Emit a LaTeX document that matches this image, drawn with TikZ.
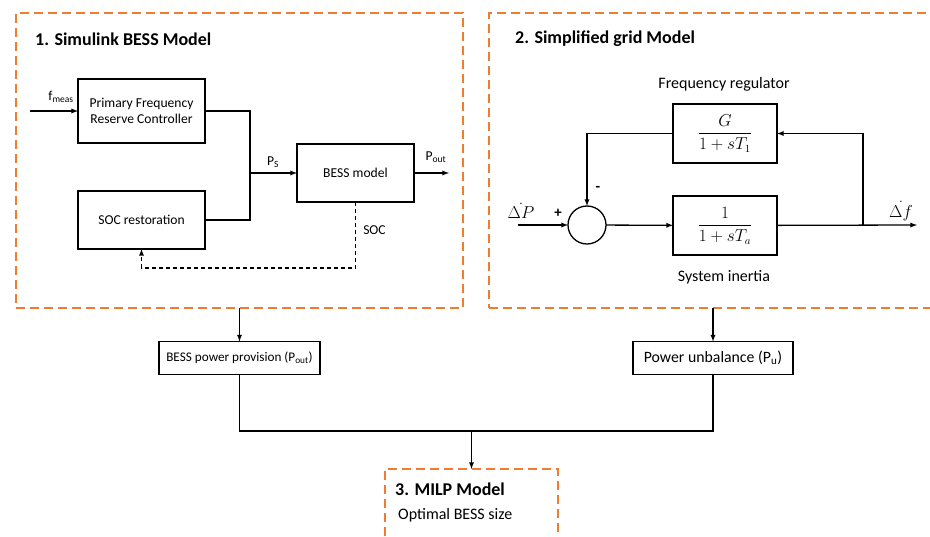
\documentclass[tikz,border=0pt]{standalone}
\usepackage{amsmath}
\usepackage{fontspec}
\setmainfont{Carlito}
\usetikzlibrary{arrows,positioning}
\definecolor{frameorange}{RGB}{237,125,49}
\tikzset{
  wire/.style={line width=1.3pt},
  block/.style={draw, line width=1.3pt, inner sep=0pt, outer sep=0pt, align=center,
    font=\fontsize{13.6}{16.5}\selectfont},
  frame/.style={draw=frameorange, line width=2.8pt, dash pattern=on 9pt off 5pt,
    inner sep=0pt, outer sep=0pt},
  title/.style={font=\fontsize{18}{21}\selectfont\bfseries, inner sep=0pt},
  lbl/.style={font=\fontsize{13.6}{16.5}\selectfont, inner sep=0pt},
  biglbl/.style={font=\fontsize{16}{19}\selectfont, inner sep=0pt},
  sumnode/.style={draw, circle, line width=1.3pt, minimum size=38pt, inner sep=0pt, outer sep=0pt},
  tf/.style={block, minimum width=104pt, minimum height=59pt, font=\fontsize{16}{19}\selectfont}
}
\begin{document}
\begin{tikzpicture}[x=1pt,y=-1pt,>=latex]
            \clip (0,0) rectangle (930,537);
            %frames
            \node[frame, minimum width=447pt, minimum height=295pt] (bessframe) at (239.5,160.5) {};
            \node[frame, minimum width=470pt, minimum height=295pt, anchor=north west] (gridframe) at (489,13) {};
            \node[frame, minimum width=173pt, minimum height=100pt, anchor=north west] (milpframe) at (385,469) {};
            \node[title, anchor=west] (bessttl) at (35,39) {1. Simulink BESS Model};
            \node[title, anchor=west] (gridttl) at (515,39) {2. Simplified grid Model};
            \node[title, anchor=west] (milpttl) at (395,489) {3. MILP Model};
            \node[biglbl, anchor=west] (milptxt) at (398,515) {Optimal BESS size};
            %bess model
            \node[block, minimum width=127pt, minimum height=64pt] (pfrc) at (141.5,111) {Primary Frequency\\Reserve Controller};
            \node[block, minimum width=127pt, minimum height=58pt] (socrest) at (141.5,220) {SOC restoration};
            \node[block, minimum width=117pt, minimum height=58pt] (bess) at (355.5,173) {BESS model};
            \coordinate (fin) at (30,111);
            \coordinate (ps) at (250,173);
            \coordinate (pout) at (449,173);
            \coordinate (socturn) at (355.5,268);
            \draw[wire,->] (fin) -- (pfrc);
            \draw[wire] (pfrc.east) -| (ps) |- (socrest.east);
            \draw[wire,->] (ps) -- (bess);
            \draw[wire,->] (bess) -- (pout);
            \draw[wire,dash pattern=on 4pt off 3pt,->] (bess.south) -- (socturn) -| (socrest.south);
            \node[lbl] (fmeas) at (61,97) {f\textsubscript{meas}};
            \node[lbl] (pslbl) at (273,162) {P\textsubscript{S}};
            \node[lbl] (poutlbl) at (436,157) {P\textsubscript{out}};
            \node[lbl] (soclbl) at (374.5,230) {SOC};
            %grid model
            \node[sumnode] (sum) at (587,225) {};
            \node[tf] (freqreg) at (725,133.5) {$\dfrac{G}{1+sT_1}$};
            \node[tf] (inertia) at (725,225.5) {$\dfrac{1}{1+sT_a}$};
            \coordinate (dpin) at (518,225);
            \coordinate (dfout) at (917,225);
            \coordinate (branch) at (863,225);
            \draw[wire,->] (dpin) -- (sum);
            \draw[wire,->] (sum) -- (inertia);
            \draw[wire,->] (inertia) -- (dfout);
            \draw[wire,->] (branch) |- (freqreg.east);
            \draw[wire,->] (freqreg.west) -| (sum.north);
            \node[biglbl] (freqlbl) at (724,84) {Frequency regulator};
            \node[biglbl] (inertlbl) at (724,277) {System inertia};
            \node[biglbl] (dplbl) at (521,211) {$\dot{\Delta P}$};
            \node[biglbl] (dflbl) at (901,211) {$\dot{\Delta f}$};
            \node[biglbl, font=\fontsize{15}{18}\selectfont\bfseries] (plus) at (558,213) {+};
            \node[biglbl, font=\fontsize{15}{18}\selectfont\bfseries] (minus) at (598,189) {-};
            %outputs
            \node[block, minimum width=161pt, minimum height=33pt, font=\fontsize{13.2}{16}\selectfont] (provision) at (239.5,358) {BESS power provision (P\textsubscript{out})};
            \node[block, minimum width=160pt, minimum height=33pt, font=\fontsize{15.8}{19}\selectfont] (unbalance) at (713,358) {Power unbalance (P\textsubscript{u})};
            \coordinate (merge) at (471.5,431);
            \draw[wire,->] (bessframe.south) -- (provision);
            \draw[wire,->] (gridframe.south -| unbalance.north) -- (unbalance);
            \draw[wire] (provision.south) |- (merge) -| (unbalance.south);
            \draw[wire,->] (merge) -- (milpframe.north);
        \end{tikzpicture}
\end{document}
